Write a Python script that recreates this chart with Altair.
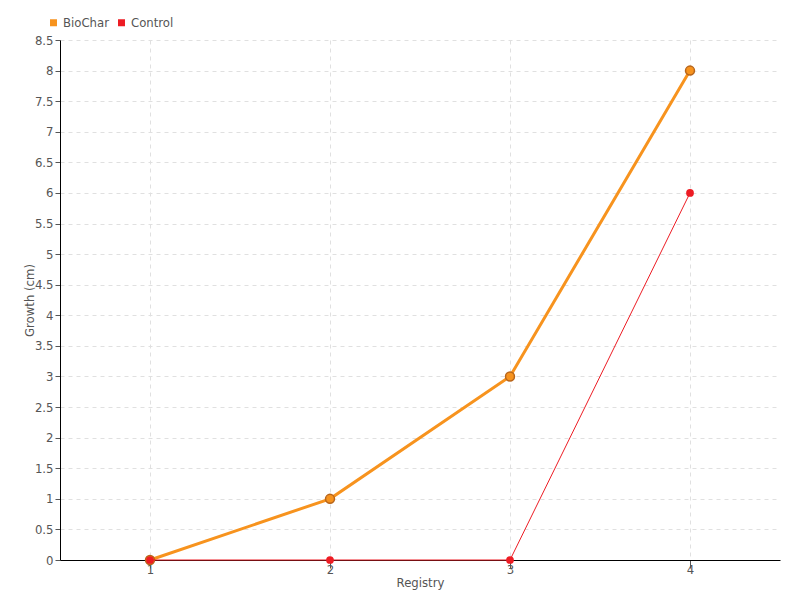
import altair as alt
import pandas as pd

registry = [1, 2, 3, 4]
biochar = [0, 1, 3, 8]
control = [0, 0, 0, 6]
series_names = ["BioChar", "Control"]
colors = ["#f7931e", "#ed1c24"]

df = pd.DataFrame({
    "Registry": registry * 2,
    "Growth": biochar + control,
    "Series": ["BioChar"] * 4 + ["Control"] * 4,
})

FONT = "DejaVu Sans Condensed, Roboto, sans-serif"

x = alt.X("Registry:Q", scale=alt.Scale(domain=[0.5, 4.5], nice=False, zero=False),
          axis=alt.Axis(values=registry, title="Registry", grid=True, gridDash=[4, 4],
                        gridColor="#e0e0e0", domainColor="#000", tickColor="#555",
                        tickSize=8, labelPadding=-5, labelColor="#555", labelFontSize=13,
                        titleColor="#555", titleFontSize=13, titleFontWeight="normal",
                        titlePadding=0, labelFont=FONT, titleFont=FONT, format="d"))
y = alt.Y("Growth:Q", scale=alt.Scale(domain=[0, 8.5], nice=False),
          axis=alt.Axis(values=[i * 0.5 for i in range(18)], title="Growth (cm)", grid=True,
                        gridDash=[4, 4], gridColor="#e0e0e0", domainColor="#000",
                        tickColor="#555", tickSize=5, labelColor="#555", labelFontSize=13,
                        titleColor="#555", titleFontSize=13, titleFontWeight="normal",
                        labelFont=FONT, titleFont=FONT, titleX=-24, titleY=260, format="~g"))
color = alt.Color("Series:N", scale=alt.Scale(domain=series_names, range=colors),
                  legend=alt.Legend(orient="none", legendX=-13, legendY=-24, direction="horizontal",
                                    title=None, symbolType="square", symbolSize=30,
                                    labelFontSize=13, labelColor="#555", labelFont=FONT,
                                    columnPadding=6, labelOffset=3))

bio = df[df.Series == "BioChar"]
ctl = df[df.Series == "Control"]

bio_line = alt.Chart(bio).mark_line(strokeWidth=3).encode(x=x, y=y, color=color)
bio_pts = alt.Chart(bio).mark_point(filled=True, size=80, stroke="#b8651a", strokeWidth=1.5, opacity=1).encode(x=x, y=y, color=color)
ctl_line = alt.Chart(ctl).mark_line(strokeWidth=1).encode(x=x, y=y, color=color)
ctl_pts = alt.Chart(ctl).mark_point(filled=True, size=60, opacity=1).encode(x=x, y=y, color=color)

chart = alt.layer(bio_line, bio_pts, ctl_line, ctl_pts).properties(
    width=720, height=520, autosize="none",
    padding={"left": 52, "top": 32, "right": 10, "bottom": 30},
).configure_view(stroke=None)

chart.save("out.html", embed_options={"renderer": "svg", "actions": False})
